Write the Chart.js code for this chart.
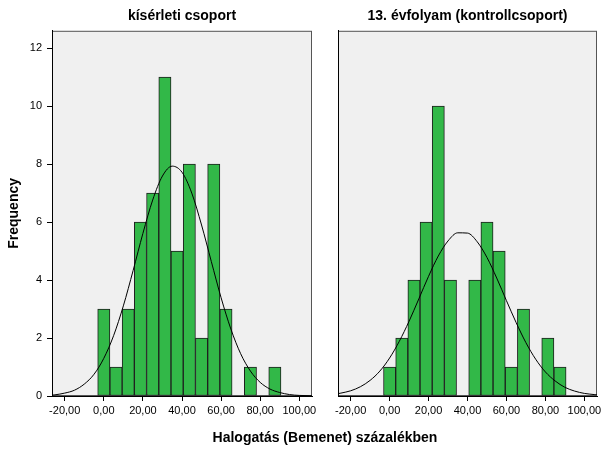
<!DOCTYPE html>
<html>
<head>
<meta charset="utf-8">
<script src="https://cdn.jsdelivr.net/npm/chart.js@4.4.0/dist/chart.umd.min.js"></script>
<style>
  body { margin: 0; background: #fff; }
  #wrap { position: relative; width: 608px; height: 453px; overflow: hidden; }
  #left { position: absolute; left: 0; top: 0; }
  #right { position: absolute; left: 320px; top: 0; }
  #xtitle {
    position: absolute; left: 325px; top: 429px; transform: translateX(-50%);
    font: bold 14px "Liberation Sans", Arial, sans-serif; color: #000; white-space: nowrap;
  }
</style>
</head>
<body>
<div id="wrap">
  <canvas id="left" width="320" height="453"></canvas>
  <canvas id="right" width="288" height="453"></canvas>
  <div id="xtitle">Halogatás (Bemenet) százalékben</div>
</div>
<script>
// kozepek (bin centers)
const binCenters = [0, 6.25, 12.5, 18.75, 25, 31.25, 37.5, 43.75, 50, 56.25, 62.5, 68.75, 75, 81.25, 87.5];
const kiserletiCounts = [3, 1, 3, 6, 7, 11, 5, 8, 2, 8, 3, 0, 1, 0, 1];
const kontrollCounts = [1, 2, 4, 6, 10, 4, 0, 4, 6, 5, 1, 3, 0, 2, 1];

// normalis gorbe, leolvasva
const curveX = [-26.5, -25, -20, -15, -10, -5, 0, 5, 10, 15, 20, 25, 30, 35, 40, 45, 50, 55, 60, 65, 70, 75, 80, 85, 90, 95, 100, 105, 106.5];
const kiserletiCurve = [0.03, 0.04, 0.10, 0.20, 0.41, 0.75, 1.30, 2.08, 3.11, 4.33, 5.61, 6.76, 7.59, 7.93, 7.72, 7.00, 5.90, 4.64, 3.39, 2.31, 1.46, 0.86, 0.47, 0.24, 0.12, 0.05, 0.02, 0.01, 0.01];
const kontrollCurve = [0.08, 0.10, 0.18, 0.32, 0.54, 0.86, 1.31, 1.89, 2.58, 3.35, 4.13, 4.83, 5.35, 5.63, 5.62, 5.32, 4.78, 4.07, 3.29, 2.53, 1.84, 1.27, 0.83, 0.52, 0.30, 0.17, 0.09, 0.05, 0.04];

const xTicks = [-20, 0, 20, 40, 60, 80, 100];
const yTicks = [0, 2, 4, 6, 8, 10, 12];

const FONT = '"Liberation Sans", Arial, sans-serif';

const panelFrame = {
    id: 'panelFrame',
    beforeDraw(chart) {
        const { ctx, chartArea: a } = chart;
        ctx.save();
        ctx.fillStyle = '#f0f0f0';
        ctx.fillRect(a.left, a.top, a.right - a.left, a.bottom - a.top);
        ctx.strokeStyle = '#555';
        ctx.lineWidth = 1;
        ctx.strokeRect(a.left + 0.5, a.top + 0.5, a.right - a.left - 1, a.bottom - a.top - 1);
        ctx.restore();
    }
};

function fmt(v) {
    return v.toFixed(2).replace('.', ',');
}

function makePanel(id, title, counts, curve, showY, yWidth, padRight) {
    const ctx = document.getElementById(id).getContext('2d');
    return new Chart(ctx, {
        type: 'bar',
        data: {
            datasets: [{
                type: 'line',
                data: curveX.map((x, i) => ({ x: x, y: curve[i] })),
                borderColor: '#000',
                borderWidth: 1,
                pointRadius: 0,
                cubicInterpolationMode: 'monotone',
                fill: false
            }, {
                type: 'bar',
                data: binCenters.map((x, i) => ({ x: x, y: counts[i] })),
                backgroundColor: '#32b848',
                borderColor: '#1e1e1e',
                borderWidth: 1,
                borderSkipped: false,
                barPercentage: 1,
                categoryPercentage: 1
            }]
        },
        options: {
            responsive: false,
            animation: false,
            layout: { padding: { left: 0, right: padRight, top: 0, bottom: 0 } },
            plugins: {
                legend: { display: false },
                tooltip: { enabled: false },
                title: {
                    display: true,
                    text: title,
                    fullSize: false,
                    color: '#000',
                    font: { family: FONT, size: 14, weight: 'bold', lineHeight: 1.2 },
                    padding: { top: 8, bottom: 6 }
                }
            },
            scales: {
                x: {
                    type: 'linear',
                    min: -26.5,
                    max: 106.5,
                    offset: false,
                    afterBuildTicks: s => { s.ticks = xTicks.map(v => ({ value: v })); },
                    afterFit: s => { s.height = 57; },
                    ticks: {
                        color: '#000',
                        font: { family: FONT, size: 11 },
                        padding: 3,
                        maxRotation: 0,
                        autoSkip: false,
                        callback: v => fmt(v)
                    },
                    grid: { offset: false, drawOnChartArea: false, drawTicks: true, tickLength: 5, color: '#000' },
                    border: { color: '#000', width: 1 }
                },
                y: {
                    type: 'linear',
                    min: 0,
                    max: 12.6,
                    afterBuildTicks: s => { s.ticks = yTicks.map(v => ({ value: v })); },
                    afterFit: s => { s.width = yWidth; },
                    ticks: {
                        display: showY,
                        color: '#000',
                        font: { family: FONT, size: 11 },
                        padding: 5
                    },
                    grid: { drawOnChartArea: false, drawTicks: showY, tickLength: 5, color: '#000' },
                    border: { color: '#000', width: 1 },
                    title: {
                        display: showY,
                        text: 'Frequency',
                        color: '#000',
                        font: { family: FONT, size: 14, weight: 'bold' },
                        padding: { top: 6 }
                    }
                }
            }
        },
        plugins: [panelFrame]
    });
}

makePanel('left', 'kísérleti csoport', kiserletiCounts, kiserletiCurve, true, 52, 8);
makePanel('right', '13. évfolyam (kontrollcsoport)', kontrollCounts, kontrollCurve, false, 18, 11);
</script>
</body>
</html>
